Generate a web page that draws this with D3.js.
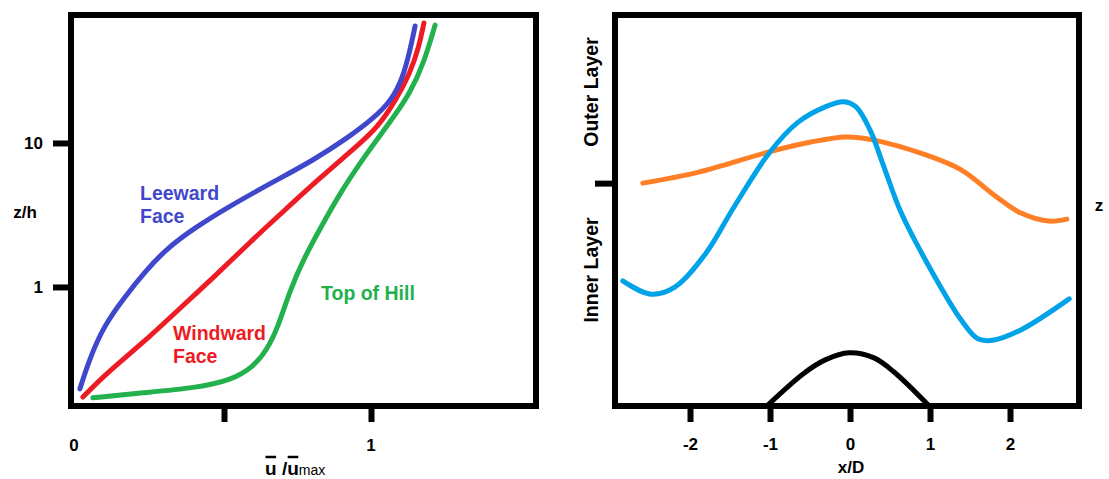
<!DOCTYPE html>
<html>
<head>
<meta charset="utf-8">
<script src="https://cdn.jsdelivr.net/npm/d3@7"></script>
<style>
body { margin: 0; background: white; }
text { font-family: "Liberation Sans", Arial, sans-serif; font-weight: bold; }
</style>
</head>
<body>
<div id="vis"></div>
<script>
// left panel: velocity profiles, [u/umax, z/h]
const leeward = [[0.010,0.196],[0.041,0.311],[0.092,0.540],[0.160,0.840],[0.230,1.27],[0.306,1.86],
  [0.405,2.61],[0.514,3.59],[0.660,5.27],[0.806,7.62],[0.925,11.0],[1.010,14.9],[1.071,19.9],
  [1.109,28.7],[1.133,44.2],[1.150,65.0]];
const windward = [[0.020,0.172],[0.102,0.253],[0.224,0.408],[0.344,0.692],[0.466,1.17],[0.585,2.02],
  [0.707,3.42],[0.830,5.81],[0.949,9.38],[1.024,12.9],[1.085,19.9],[1.133,30.6],[1.163,46.4],[1.180,68.1]];
const topOfHill = [[0.054,0.170],[0.224,0.184],[0.405,0.199],[0.527,0.226],[0.599,0.278],[0.646,0.365],
  [0.684,0.527],[0.721,0.908],[0.769,1.54],[0.830,2.61],[0.901,4.72],[0.986,8.52],[1.071,14.5],
  [1.133,22.2],[1.180,35.9],[1.218,65.9]];
const leftXTicks = [0.5, 1];
const leftXLabels = [["0", 0], ["1", 1]];
const leftYTicks = [1, 10];

// right panel: [x/D, z] (z normalised to the frame height)
const innerLayer = [[-2.84,0.320],[-2.49,0.286],[-2.19,0.304],[-1.80,0.391],[-1.45,0.509],[-1.01,0.647],
  [-0.66,0.724],[-0.31,0.765],[-0.075,0.778],[0.075,0.765],[0.25,0.706],[0.425,0.611],[0.64,0.494],
  [0.99,0.356],[1.39,0.220],[1.60,0.172],[1.78,0.168],[2.13,0.194],[2.74,0.274]];
const outerLayer = [[-2.59,0.570],[-1.89,0.598],[-1.01,0.650],[-0.49,0.675],[-0.05,0.688],[0.30,0.680],
  [0.95,0.642],[1.39,0.604],[1.83,0.535],[2.13,0.494],[2.48,0.473],[2.71,0.478]];
const hill = [[-1.04,0],[-0.575,0.084],[-0.31,0.118],[-0.01,0.136],[0.3,0.123],[0.55,0.087],[0.99,0]];
const rightXTicks = [-2, -1, 0, 1, 2];
const rightYTicks = [0.57];

const width = 1109, height = 479;

let svg = d3.select("#vis")
  .append("svg")
  .attr("width", width)
  .attr("height", height)
  .style("background", "white");

// ---------- left panel ----------
let left = {x0: 71, x1: 536, y0: 15, y1: 406};

let xL = d3.scaleLinear().domain([0, 1]).range([77, 371]);
let yL = d3.scaleLog().domain([0.149, 77.4]).range([left.y1, left.y0]);

let lineL = d3.line()
  .x(d => xL(d[0]))
  .y(d => yL(d[1]))
  .curve(d3.curveBasis);

svg.append("path").datum(topOfHill).attr("d", lineL)
  .attr("fill", "none").attr("stroke", "#22b14c").attr("stroke-width", 5).attr("stroke-linecap", "round");
svg.append("path").datum(windward).attr("d", lineL)
  .attr("fill", "none").attr("stroke", "#ed1c24").attr("stroke-width", 5).attr("stroke-linecap", "round");
svg.append("path").datum(leeward).attr("d", lineL)
  .attr("fill", "none").attr("stroke", "#3f48cc").attr("stroke-width", 5).attr("stroke-linecap", "round");

// frame
svg.append("rect")
  .attr("x", left.x0).attr("y", left.y0)
  .attr("width", left.x1 - left.x0).attr("height", left.y1 - left.y0)
  .attr("fill", "none").attr("stroke", "black").attr("stroke-width", 6);

// axes
let xAxisL = svg.append("g")
  .attr("transform", `translate(0, ${left.y1})`)
  .call(d3.axisBottom(xL).tickValues(leftXTicks).tickSize(16).tickFormat(""));
let yAxisL = svg.append("g")
  .attr("transform", `translate(${left.x0}, 0)`)
  .call(d3.axisLeft(yL).tickValues(leftYTicks).tickSize(18).tickPadding(10).tickFormat(d3.format("d")));
[xAxisL, yAxisL].forEach(function(a) {
  a.select(".domain").remove();
  a.selectAll(".tick line").attr("stroke", "black").attr("stroke-width", 6);
  a.selectAll(".tick text").attr("fill", "black").style("font-size", "17px")
    .style("font-family", "'Liberation Sans', Arial, sans-serif").style("font-weight", "bold");
});

svg.selectAll(".xlabL")
  .data(leftXLabels)
  .enter()
  .append("text")
  .attr("x", d => xL(d[1]) - (d[1] === 0 ? 3 : 0))
  .attr("y", 451)
  .attr("text-anchor", "middle")
  .style("font-size", "17px")
  .text(d => d[0]);

// axis titles
svg.append("text")
  .attr("x", 25).attr("y", 218)
  .attr("text-anchor", "middle")
  .style("font-size", "17px")
  .text("z/h");

let ulab = svg.append("text")
  .attr("x", 265).attr("y", 475)
  .style("font-size", "19px");
ulab.append("tspan").text("u /u");
ulab.append("tspan").style("font-size", "14px").style("font-weight", "normal").text("max");
let unode = ulab.node();
[0, 3].forEach(function(i) {
  let s = unode.getStartPositionOfChar(i).x;
  let e = unode.getEndPositionOfChar(i).x;
  svg.append("line")
    .attr("x1", s + 0.5).attr("x2", e - 0.5)
    .attr("y1", 457).attr("y2", 457)
    .attr("stroke", "black").attr("stroke-width", 2.5);
});

// series labels
function addLabel(lines, x, y, color) {
  let t = svg.append("text").attr("x", x).attr("y", y).attr("fill", color).style("font-size", "19.5px");
  lines.forEach(function(l, i) {
    t.append("tspan").attr("x", x).attr("dy", i === 0 ? 0 : 23).text(l);
  });
}
addLabel(["Leeward", "Face"], 140, 200, "#3f48cc");
addLabel(["Windward", "Face"], 173, 340, "#ed1c24");
addLabel(["Top of Hill"], 321, 300, "#22b14c");

// ---------- right panel ----------
let right = {x0: 615, x1: 1079, y0: 15, y1: 406};

let xR = d3.scaleLinear().domain([-2.9375, 2.8625]).range([right.x0, right.x1]);
let yR = d3.scaleLinear().domain([0, 1]).range([right.y1, right.y0]);

let lineR = d3.line()
  .x(d => xR(d[0]))
  .y(d => yR(d[1]))
  .curve(d3.curveCatmullRom.alpha(0.5));

svg.append("path").datum(hill).attr("d", lineR)
  .attr("fill", "none").attr("stroke", "black").attr("stroke-width", 5).attr("stroke-linecap", "round");
svg.append("path").datum(outerLayer).attr("d", lineR)
  .attr("fill", "none").attr("stroke", "#ff7f27").attr("stroke-width", 5).attr("stroke-linecap", "round");
svg.append("path").datum(innerLayer).attr("d", lineR)
  .attr("fill", "none").attr("stroke", "#00a2e8").attr("stroke-width", 5).attr("stroke-linecap", "round");

svg.append("rect")
  .attr("x", right.x0).attr("y", right.y0)
  .attr("width", right.x1 - right.x0).attr("height", right.y1 - right.y0)
  .attr("fill", "none").attr("stroke", "black").attr("stroke-width", 6);

let xAxisR = svg.append("g")
  .attr("transform", `translate(0, ${right.y1})`)
  .call(d3.axisBottom(xR).tickValues(rightXTicks).tickSize(16).tickPadding(16)
    .tickFormat(d => d < 0 ? "-" + Math.abs(d) : String(d)));
let yAxisR = svg.append("g")
  .attr("transform", `translate(${right.x0}, 0)`)
  .call(d3.axisLeft(yR).tickValues(rightYTicks).tickSize(20).tickFormat(""));
[xAxisR, yAxisR].forEach(function(a) {
  a.select(".domain").remove();
  a.selectAll(".tick line").attr("stroke", "black").attr("stroke-width", 6);
  a.selectAll(".tick text").attr("fill", "black").style("font-size", "17px")
    .style("font-family", "'Liberation Sans', Arial, sans-serif").style("font-weight", "bold");
});

svg.append("text")
  .attr("x", 851).attr("y", 473)
  .attr("text-anchor", "middle")
  .style("font-size", "17px")
  .text("x/D");

svg.append("text")
  .attr("x", 1099).attr("y", 211)
  .attr("text-anchor", "middle")
  .style("font-size", "17px")
  .text("z");

svg.append("text")
  .attr("transform", "translate(598, 92) rotate(-90)")
  .attr("text-anchor", "middle")
  .style("font-size", "19.5px")
  .text("Outer Layer");
svg.append("text")
  .attr("transform", "translate(598, 270) rotate(-90)")
  .attr("text-anchor", "middle")
  .style("font-size", "19.5px")
  .text("Inner Layer");
</script>
</body>
</html>
